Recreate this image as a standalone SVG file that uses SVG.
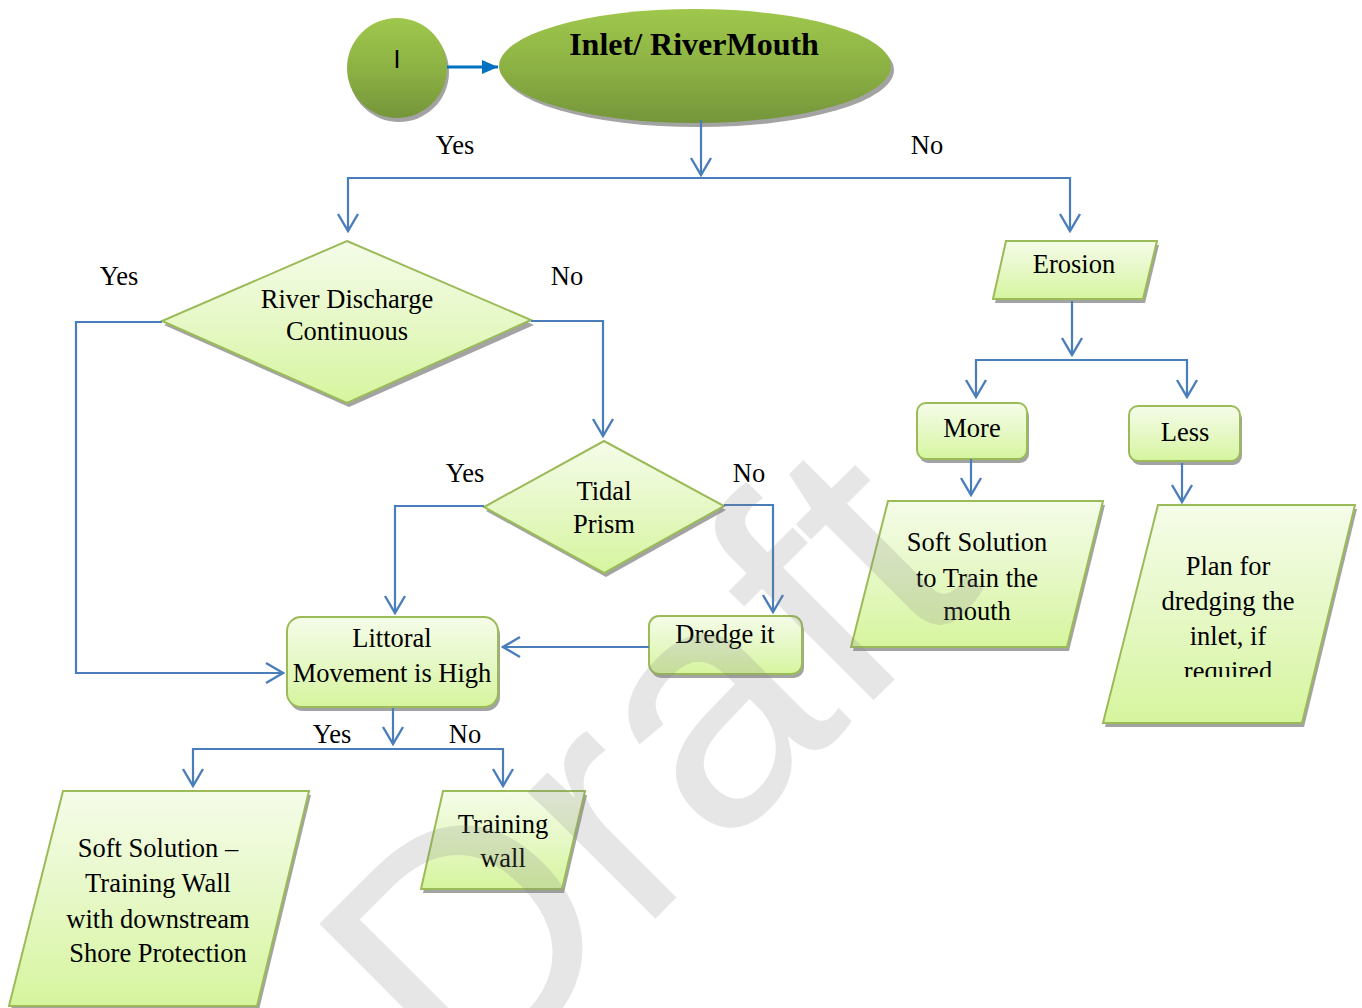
<svg xmlns="http://www.w3.org/2000/svg" width="1362" height="1008" viewBox="0 0 1362 1008">
  <defs>
    <linearGradient id="darkGreen" x1="0" y1="0" x2="0" y2="1">
      <stop offset="0" stop-color="#9fc74c"/>
      <stop offset="0.5" stop-color="#8db244"/>
      <stop offset="1" stop-color="#75953a"/>
    </linearGradient>
    <linearGradient id="lightGreen" x1="0" y1="0" x2="0" y2="1">
      <stop offset="0" stop-color="#f5fce9"/>
      <stop offset="0.5" stop-color="#e6f8c6"/>
      <stop offset="1" stop-color="#d6f59e"/>
    </linearGradient>
    <marker id="open" viewBox="-19 -12 21 24" markerWidth="21" markerHeight="24" markerUnits="userSpaceOnUse" refX="0" refY="0" orient="auto">
      <path d="M-17,-10 L0,0 L-17,10" fill="none" stroke="#4a7ebb" stroke-width="2.4"/>
    </marker>
    <marker id="solid" viewBox="0 0 16 14" markerWidth="16" markerHeight="14" markerUnits="userSpaceOnUse" refX="16" refY="7" orient="auto">
      <path d="M0,0 L16,7 L0,14 Z" fill="#0070c0"/>
    </marker>
    <clipPath id="planClip">
      <rect x="1100" y="500" width="262" height="177"/>
    </clipPath>
    <style>
      .lbl { font-family: "Liberation Serif", "Times New Roman", serif; font-size: 26.5px; fill: #000; text-anchor: middle; }
      .title { font-family: "Liberation Serif", "Times New Roman", serif; font-size: 32px; font-weight: bold; fill: #000; text-anchor: middle; }
      .node { fill: url(#lightGreen); stroke: #9bbb59; stroke-width: 2; }
      .dark { fill: url(#darkGreen); }
      .shadow { fill: #a3a3a3; }
      .conn { fill: none; stroke: #4a7ebb; stroke-width: 2.2; marker-end: url(#open); }
    </style>
  </defs>

  <rect width="1362" height="1008" fill="#ffffff"/>

  <!-- start terminator -->
  <g id="start">
    <circle class="shadow" cx="399" cy="72" r="50"/>
    <circle class="dark" cx="397" cy="68" r="50"/>
    <text x="397" y="68" font-family="Liberation Sans, Arial, sans-serif" font-size="25" text-anchor="middle">I</text>
  </g>

  <g id="inlet">
    <ellipse class="shadow" cx="698" cy="70" rx="196" ry="57"/>
    <ellipse class="dark" cx="695" cy="66" rx="196" ry="57"/>
    <text class="title" x="694" y="55">Inlet/ RiverMouth</text>
  </g>

  <g id="river-discharge">
    <polygon class="shadow" points="349,245 534,325 349,407 164,325"/>
    <polygon class="node" points="347,241 531,320 347,403 162,321"/>
    <text class="lbl" x="347" y="308">River Discharge</text>
    <text class="lbl" x="347" y="340">Continuous</text>
  </g>

  <g id="tidal-prism">
    <polygon class="shadow" points="606,445 726,510 606,577 486,511"/>
    <polygon class="node" points="604,441 724,506 604,573 484,507"/>
    <text class="lbl" x="604" y="500">Tidal</text>
    <text class="lbl" x="604" y="533">Prism</text>
  </g>

  <g id="littoral">
    <rect class="shadow" x="289" y="621" width="211" height="90" rx="14"/>
    <rect class="node" x="287" y="617" width="211" height="90" rx="14"/>
    <text class="lbl" x="392" y="647">Littoral</text>
    <text class="lbl" x="392" y="682">Movement is High</text>
  </g>

  <g id="dredge">
    <rect class="shadow" x="651" y="620" width="153" height="58" rx="10"/>
    <rect class="node" x="649" y="616" width="153" height="58" rx="10"/>
    <text class="lbl" x="725" y="643">Dredge it</text>
  </g>

  <g id="soft-training-wall">
    <polygon class="shadow" points="65,795 311,795 259,1010 11,1010"/>
    <polygon class="node" points="63,791 309,791 257,1006 9,1006"/>
    <text class="lbl" x="158" y="857">Soft Solution –</text>
    <text class="lbl" x="158" y="892">Training Wall</text>
    <text class="lbl" x="158" y="928">with downstream</text>
    <text class="lbl" x="158" y="962">Shore Protection</text>
  </g>

  <g id="training-wall">
    <polygon class="shadow" points="445,795 587,795 564,893 423,893"/>
    <polygon class="node" points="443,791 585,791 562,889 421,889"/>
    <text class="lbl" x="503" y="833">Training</text>
    <text class="lbl" x="503" y="867">wall</text>
  </g>

  <g id="erosion">
    <polygon class="shadow" points="1008,245 1159,245 1145,303 995,303"/>
    <polygon class="node" points="1006,241 1157,241 1143,299 993,299"/>
    <text class="lbl" x="1074" y="273">Erosion</text>
  </g>

  <g id="more">
    <rect class="shadow" x="919" y="407" width="110" height="56" rx="9"/>
    <rect class="node" x="917" y="403" width="110" height="56" rx="9"/>
    <text class="lbl" x="972" y="437">More</text>
  </g>

  <g id="less">
    <rect class="shadow" x="1131" y="410" width="111" height="55" rx="9"/>
    <rect class="node" x="1129" y="406" width="111" height="55" rx="9"/>
    <text class="lbl" x="1185" y="441">Less</text>
  </g>

  <g id="soft-train-mouth">
    <polygon class="shadow" points="890,505 1105,505 1069,651 853,651"/>
    <polygon class="node" points="888,501 1103,501 1067,647 851,647"/>
    <text class="lbl" x="977" y="551">Soft Solution</text>
    <text class="lbl" x="977" y="587">to Train the</text>
    <text class="lbl" x="977" y="620">mouth</text>
  </g>

  <g id="plan-dredging">
    <polygon class="shadow" points="1160,509 1357,509 1304,727 1105,727"/>
    <polygon class="node" points="1158,505 1355,505 1302,723 1103,723"/>
    <text class="lbl" x="1228" y="575">Plan for</text>
    <text class="lbl" x="1228" y="610">dredging the</text>
    <text class="lbl" x="1228" y="645">inlet, if</text>
    <text class="lbl" x="1228" y="680" clip-path="url(#planClip)">required</text>
  </g>

  <!-- connectors -->
  <g id="connectors">
    <line x1="447" y1="67" x2="498" y2="67" stroke="#0070c0" stroke-width="3" marker-end="url(#solid)"/>
    <path class="conn" d="M701,120 V175"/>
    <path class="conn" d="M701,178 H348 V231"/>
    <path class="conn" d="M701,178 H1070 V231"/>
    <path class="conn" d="M162,322 H76 V673 H283"/>
    <path class="conn" d="M531,321 H603 V436"/>
    <path class="conn" d="M484,506 H395 V613"/>
    <path class="conn" d="M724,505 H773 V612"/>
    <path class="conn" d="M649,647 H503"/>
    <path class="conn" d="M393,708 V744"/>
    <path class="conn" d="M393,749 H193 V786"/>
    <path class="conn" d="M393,749 H503 V786"/>
    <path class="conn" d="M1072,301 V355"/>
    <path class="conn" d="M1072,360 H976 V397"/>
    <path class="conn" d="M1072,360 H1187 V397"/>
    <path class="conn" d="M971,459 V495"/>
    <path class="conn" d="M1182,463 V502"/>
  </g>

  <!-- branch labels -->
  <g id="labels">
    <text class="lbl" x="455" y="154">Yes</text>
    <text class="lbl" x="927" y="154">No</text>
    <text class="lbl" x="119" y="285">Yes</text>
    <text class="lbl" x="567" y="285">No</text>
    <text class="lbl" x="465" y="482">Yes</text>
    <text class="lbl" x="749" y="482">No</text>
    <text class="lbl" x="332" y="743">Yes</text>
    <text class="lbl" x="465" y="743">No</text>
  </g>

  <!-- watermark -->
  <text x="0" y="0" transform="translate(465,1109) rotate(-45)" font-family="Liberation Sans, Arial, sans-serif" font-size="340" fill="#808080" fill-opacity="0.2">Draft</text>
</svg>
